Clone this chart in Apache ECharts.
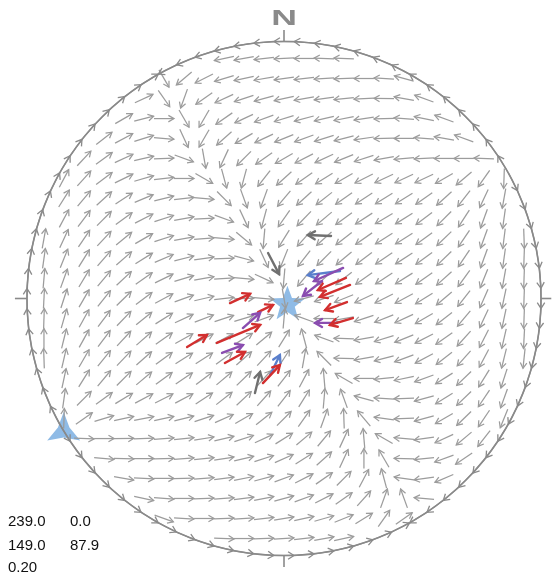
<!DOCTYPE html>
<html><head><meta charset="utf-8">
<script src="https://cdn.jsdelivr.net/npm/echarts@6/dist/echarts.min.js"></script>
<style>html,body{margin:0;padding:0;background:#fff}#c{width:553px;height:574px}</style>
</head><body><div id="c"></div>
<script>
// ---- stress axes (trend, plunge) and ratio, as printed on the chart ----
const SIGMA_TREND = [239.0, 149.0];
const SIGMA_PLUNGE = [0.0, 87.9];
const STRESS_RATIO = 0.20;

// ---- lattice of poles (unit-circle coordinates) ----
const GRID_X = [-0.934,-0.856,-0.778,-0.700,-0.623,-0.545,-0.467,-0.389,-0.311,-0.233,-0.156,-0.078,0,0.078,0.156,0.233,0.311,0.389,0.467,0.545,0.623,0.700,0.778,0.856,0.934];
const GRID_Y = [0.934,0.856,0.778,0.700,0.623,0.545,0.467,0.389,0.311,0.233,0.156,0.078,0,-0.078,-0.156,-0.233,-0.311,-0.389,-0.467,-0.545,-0.623,-0.700,-0.778,-0.856,-0.934];
// first GRID_X index used in each row
const ROW_FIRST = [9,6,5,4,3,2,1,1,1,0,0,0,0,0,0,0,1,1,1,2,3,4,5,6,9];
// slip direction at each pole, degrees counter-clockwise from east
const FIELD = [
 [192,190,186,183,180,178,178],
 [300,220,207,197,192,190,188,186,184,182,180,177,165],
 [25,305,250,215,205,198,195,192,190,188,186,183,179,170,160],
 [30,14,0,300,240,215,205,200,197,195,193,191,189,182,176,168,160],
 [38,28,17,355,295,240,222,210,205,202,200,197,194,188,182,180,176,170,160],
 [47,36,25,13,2,340,280,245,225,215,210,207,205,202,198,190,185,183,180,180,178],
 [62,48,37,26,16,6,0,330,285,255,232,222,215,212,210,207,205,205,205,210,220,235,268],
 [58,50,42,33,23,14,6,355,315,290,250,230,222,218,215,213,212,212,215,222,232,245,260],
 [62,53,45,36,27,18,10,3,340,295,255,235,226,220,216,213,211,212,217,225,237,250,262],
 [80,65,56,47,39,30,18,10,4,355,320,265,238,228,222,218,215,212,212,216,224,236,250,263,272],
 [82,68,58,49,41,32,23,14,8,2,345,295,248,232,225,220,217,214,213,216,224,236,250,262,268],
 [85,70,59,50,43,35,26,17,10,4,355,335,265,230,222,218,215,213,212,215,222,234,248,260,268],
 [87,72,60,51,44,37,28,20,13,7,2,355,280,195,198,202,205,207,208,212,220,232,246,258,268],
 [88,74,61,53,46,39,32,25,21,18,17,20,85,160,180,190,198,202,205,210,218,230,245,258,268],
 [90,76,61,53,47,41,35,29,27,28,32,40,58,105,160,178,190,197,202,207,215,228,243,257,267],
 [92,77,60,51,46,41,36,32,33,36,41,47,57,80,135,178,190,195,200,208,218,228,242,256,264],
 [78,58,50,45,40,36,34,37,40,44,48,52,62,95,150,180,186,192,200,212,224,238,252],
 [82,45,36,31,28,27,28,33,38,43,48,52,58,85,110,165,176,182,195,212,224,236,250],
 [88,35,17,12,11,12,14,18,24,30,38,45,55,70,92,130,172,182,195,210,224,236,248],
 [358,0,1,2,4,6,9,13,18,25,32,40,50,65,95,150,175,188,205,220,232],
 [355,358,0,2,4,6,9,13,18,24,32,42,65,90,120,178,186,200,214],
 [350,357,0,2,4,7,11,15,20,27,35,45,62,105,172,188,203],
 [348,356,0,2,4,7,11,15,20,27,35,48,70,110,175],
 [340,357,0,2,4,6,9,12,16,22,32,55,35],
 [358,0,2,4,6,10,12]
];

// ---- arrows on the primitive: bearing of pole, sense (+1 clockwise, -1 anticlockwise) ----
const EDGE_BEARING = [0,4.5,9,13.5,18,22.5,27,31.5,36,40.5,45,49.5,54,58.5,63,67.5,72,76.5,81,85.5,90,94.5,99,103.5,108,112.5,117,121.5,126,130.5,135,139.5,144,148.5,153,157.5,162,166.5,171,175.5,180,184.5,189,193.5,198,202.5,207,211.5,216,220.5,225,229.5,234,238.5,243,247.5,252,256.5,261,265.5,270,274.5,279,283.5,288,292.5,297,301.5,306,310.5,315,319.5,324,328.5,333,337.5,342,346.5,351,355.5];
const EDGE_SENSE = [-1,-1,-1,-1,-1,-1,-1,-1,-1,-1,-1,-1,-1,-1, 1,1,1,1,1,1,1,1,1,1,1,1,1,1,1,1,1,1,1,1, -1,-1,-1,-1,-1,-1,-1,-1,-1,-1,-1,-1,-1,-1,-1,-1,-1,-1,-1,-1, 1,1,1,1,1,1,1,1,1,1,1,1,1,1,1,1,1,1,1,1, -1,-1,-1,-1,-1,-1];

// ---- measured fault-slip data: tail x, tail y, head x, head y, kind ----
const KINDS = ['red','purple','blue','gray'];
const DATA_ARROWS = [
 [0.183,0.243,0.093,0.247,3],
 [-0.062,0.177,-0.019,0.095,3],
 [0.218,0.107,0.093,0.091,2],
 [0.230,0.119,0.117,0.068,1],
 [0.148,0.068,0.074,0.010,1],
 [0.241,0.080,0.132,0.033,0],
 [0.257,0.053,0.140,0.006,0],
 [-0.210,-0.018,-0.132,0.018,0],
 [-0.101,-0.053,-0.043,-0.025,0],
 [-0.160,-0.115,-0.093,-0.056,1],
 [-0.261,-0.173,-0.093,-0.103,0],
 [-0.377,-0.189,-0.300,-0.142,0],
 [-0.241,-0.212,-0.160,-0.181,1],
 [-0.230,-0.251,-0.152,-0.208,0],
 [-0.054,-0.298,-0.016,-0.220,2],
 [-0.082,-0.329,-0.016,-0.259,0],
 [-0.113,-0.368,-0.093,-0.286,3],
 [0.206,-0.095,0.121,-0.095,1],
 [0.268,-0.076,0.179,-0.103,0],
 [0.245,-0.014,0.160,-0.045,0]
];

// ---------------------------------------------------------------
const COLORS = {red:'#d22f2f', purple:'#8a4db0', blue:'#5a7fcc', gray:'#707070'};
const D2R = Math.PI / 180;

function arrowParts(tx, ty, hx, hy, arm, spread, style) {
  const a = Math.atan2(hy - ty, hx - tx), s = spread * D2R;
  const p1 = [hx - arm * Math.cos(a - s), hy - arm * Math.sin(a - s)];
  const p2 = [hx - arm * Math.cos(a + s), hy - arm * Math.sin(a + s)];
  return [
    {type:'line', shape:{x1:tx, y1:ty, x2:hx, y2:hy}, style:style},
    {type:'polyline', shape:{points:[p1, [hx, hy], p2]}, style:style}
  ];
}

const fieldData = [];
FIELD.forEach((row, r) => {
  row.forEach((ang, k) => fieldData.push([GRID_X[ROW_FIRST[r] + k], GRID_Y[r], ang]));
});
const edgeData = EDGE_BEARING.map((b, i) => [Math.sin(b * D2R), Math.cos(b * D2R), b, EDGE_SENSE[i]]);

// equal-area lower hemisphere projection of a line
function project(trend, plunge) {
  const r = Math.SQRT2 * Math.sin((90 - plunge) / 2 * D2R);
  return [r * Math.sin(trend * D2R), r * Math.cos(trend * D2R)];
}
const s1 = project(SIGMA_TREND[0], SIGMA_PLUNGE[0]);
const s3 = project(SIGMA_TREND[1], SIGMA_PLUNGE[1]);

const STAR = 'path://M0,-1L0.247,-0.34L0.951,-0.309L0.399,0.13L0.588,0.809L0,0.42L-0.588,0.809L-0.399,0.13L-0.951,-0.309L-0.247,-0.34Z';
const TRI = 'path://M0,-1L0.303,-0.175L0.866,0.5L0,0.35L-0.866,0.5L-0.303,-0.175Z';

const chart = echarts.init(document.getElementById('c'), null, {renderer:'canvas'});
const FONT = '"Liberation Sans", Arial, sans-serif';
chart.setOption({
  animation:false,
  backgroundColor:'#fff',
  grid:{left:27, top:41.5, width:514, height:514},
  xAxis:{type:'value', min:-1, max:1, show:false},
  yAxis:{type:'value', min:-1, max:1, show:false},
  graphic:[
    {type:'text', x:284, y:18.5, scaleX:1.62, style:{text:'N', x:0, y:0, fill:'#8a8a8a', font:'bold 22px ' + FONT, textAlign:'center', textVerticalAlign:'middle'}},
    {type:'text', x:8, y:522, style:{text:SIGMA_TREND[0].toFixed(1), fill:'#111', font:'15px ' + FONT, textVerticalAlign:'middle'}},
    {type:'text', x:70, y:522, style:{text:SIGMA_PLUNGE[0].toFixed(1), fill:'#111', font:'15px ' + FONT, textVerticalAlign:'middle'}},
    {type:'text', x:8, y:546, style:{text:SIGMA_TREND[1].toFixed(1), fill:'#111', font:'15px ' + FONT, textVerticalAlign:'middle'}},
    {type:'text', x:70, y:546, style:{text:SIGMA_PLUNGE[1].toFixed(1), fill:'#111', font:'15px ' + FONT, textVerticalAlign:'middle'}},
    {type:'text', x:8, y:568, style:{text:STRESS_RATIO.toFixed(2), fill:'#111', font:'15px ' + FONT, textVerticalAlign:'middle'}}
  ],
  series:[
    { // stress axes symbols
      type:'scatter', z:1, silent:true,
      data:[
        {value:s1, symbol:TRI, symbolSize:[33, 28.5], symbolOffset:[0, -4.7]},
        {value:s3, symbol:STAR, symbolSize:[35, 33.5], symbolOffset:[0, -1.7]}
      ],
      itemStyle:{color:'#8fbbe6', opacity:1}
    },
    { // primitive circle and ticks
      type:'custom', z:2, silent:true, data:[[0,0]],
      renderItem:(p, api) => {
        const c = api.coord([0,0]);
        const r = api.coord([1,0])[0] - c[0];
        const st = {stroke:'#8a8a8a', lineWidth:1.6, fill:'none'};
        const tk = (a, b) => { const u = api.coord(a), v = api.coord(b); return {type:'line', shape:{x1:u[0],y1:u[1],x2:v[0],y2:v[1]}, style:st}; };
        return {type:'group', children:[
          {type:'circle', shape:{cx:c[0], cy:c[1], r:r}, style:st},
          tk([0,1],[0,1.045]), tk([-1,0],[-1.047,0]), tk([1,0],[1.04,0]), tk([0,-1],[0,-1.045])
        ]};
      }
    },
    { // slip field on the lattice
      type:'custom', z:3, silent:true, data:fieldData, encode:{x:0, y:1},
      renderItem:(p, api) => {
        const c = api.coord([api.value(0), api.value(1)]);
        const a = api.value(2) * D2R, h = 10;
        const ux = Math.cos(a), uy = -Math.sin(a);
        return {type:'group', children:arrowParts(c[0]-ux*h, c[1]-uy*h, c[0]+ux*h, c[1]+uy*h, 6.5, 30,
          {stroke:'#9c9c9c', lineWidth:1.25, fill:'none'})};
      }
    },
    { // slip on the primitive
      type:'custom', z:3, silent:true, data:edgeData, encode:{x:0, y:1},
      renderItem:(p, api) => {
        const c = api.coord([api.value(0), api.value(1)]);
        const b = api.value(2) * D2R, s = api.value(3), h = 10;
        const ux = Math.cos(b) * s, uy = Math.sin(b) * s;
        return {type:'group', children:arrowParts(c[0]-ux*h, c[1]-uy*h, c[0]+ux*h, c[1]+uy*h, 7, 32,
          {stroke:'#8a8a8a', lineWidth:1.3, fill:'none'})};
      }
    },
    { // measured data
      type:'custom', z:4, silent:true, data:DATA_ARROWS, encode:{x:[0,2], y:[1,3]},
      renderItem:(p, api) => {
        const t = api.coord([api.value(0), api.value(1)]);
        const h = api.coord([api.value(2), api.value(3)]);
        const col = COLORS[KINDS[api.value(4)]];
        return {type:'group', children:arrowParts(t[0], t[1], h[0], h[1], 8, 30,
          {stroke:col, lineWidth:2.4, fill:'none', lineCap:'round'})};
      }
    }
  ]
});
</script>
</body></html>
